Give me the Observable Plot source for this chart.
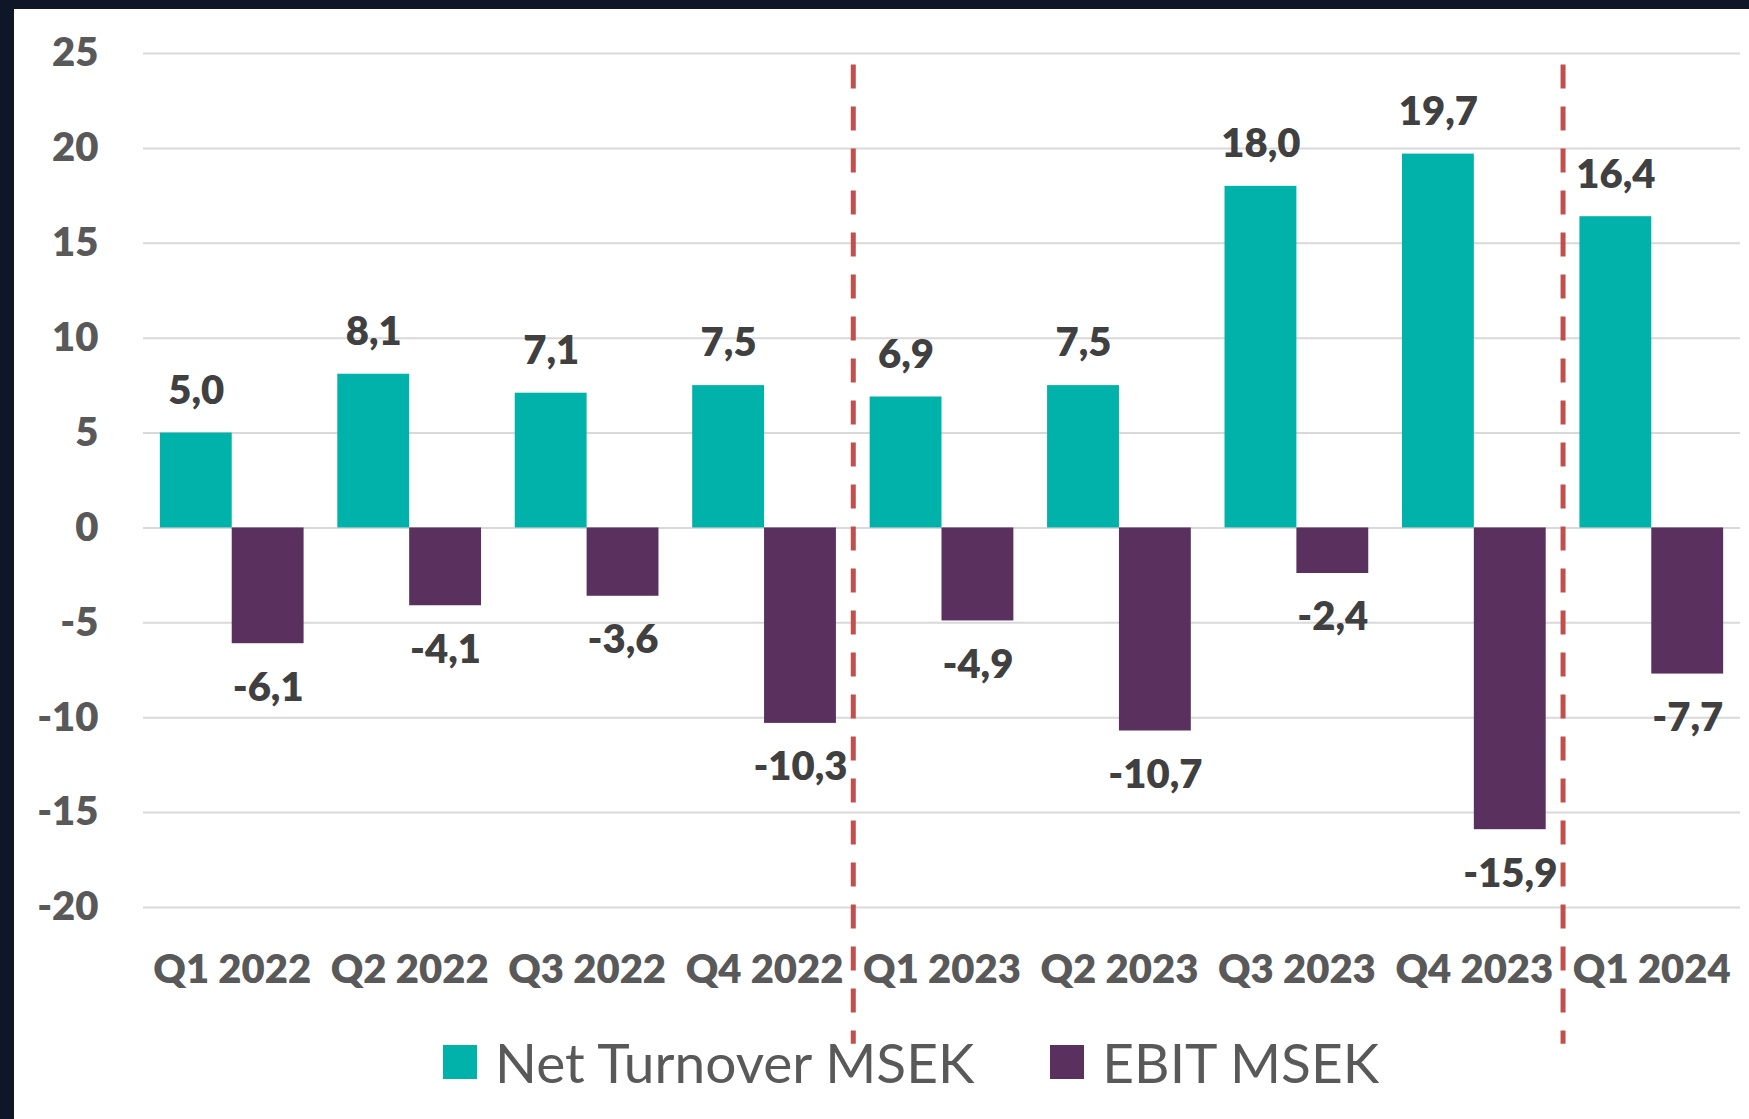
<!DOCTYPE html>
<html>
<head>
<meta charset="utf-8">
<script src="https://cdn.jsdelivr.net/npm/d3@7"></script>
<script src="https://cdn.jsdelivr.net/npm/@observablehq/plot@0.6"></script>
<style>
  html, body { margin: 0; padding: 0; }
  body { width: 1749px; height: 1119px; background: #0e1628; position: relative; overflow: hidden; font-family: Lato, "Open Sans", sans-serif; }
  #card { position: absolute; left: 14px; top: 9px; width: 1735px; height: 1110px; background: #ffffff; }
  #chart { position: absolute; left: 0; top: 0; }
  #legend { position: absolute; left: 429px; top: 1020px; display: flex; align-items: center; color: #595959; font-size: 55px; font-family: Lato, sans-serif; }
  .item { display: flex; align-items: center; }
  .sw { width: 34px; height: 34px; margin-right: 18px; }
  .item + .item { margin-left: 76px; }
</style>
</head>
<body>
<div id="card">
  <div id="chart"></div>
  <div id="legend"></div>
</div>
<script>
const quarters = ["Q1 2022", "Q2 2022", "Q3 2022", "Q4 2022", "Q1 2023", "Q2 2023", "Q3 2023", "Q4 2023", "Q1 2024"];
const netTurnover = [5.0, 8.1, 7.1, 7.5, 6.9, 7.5, 18.0, 19.7, 16.4];
const ebit = [-6.1, -4.1, -3.6, -10.3, -4.9, -10.7, -2.4, -15.9, -7.7];
const seriesNames = ["Net Turnover MSEK", "EBIT MSEK"];
const seriesColors = ["#00B2A9", "#59305E"];
const yTicks = [-20, -15, -10, -5, 0, 5, 10, 15, 20, 25];
const dividers = ["Q1 2023", "Q1 2024"];

const netData = quarters.map((q, i) => ({q, i, v: netTurnover[i]}));
const ebitData = quarters.map((q, i) => ({q, i, v: ebit[i]}));
const fmt = v => v.toFixed(1).replace(".", ",");

const gap = 0.095; // outer padding within each quarter band

const chart = Plot.plot({
  width: 1735,
  height: 1040,
  marginLeft: 129,
  marginRight: 9,
  marginTop: 44,
  marginBottom: 142,
  style: {fontFamily: "Lato, sans-serif", fontSize: "40px", fontWeight: "800", color: "#595959", background: "transparent", overflow: "visible"},
  x: {domain: [0, quarters.length], ticks: quarters.map((_, i) => i + 0.5), tickFormat: v => quarters[Math.floor(v)], tickSize: 0, tickPadding: 47, label: null},
  y: {domain: [-20, 25], ticks: yTicks, tickFormat: d => String(d), tickSize: 0, tickPadding: 45, label: null},
  marks: [
    Plot.ruleY(yTicks, {stroke: "#d9d9d9", strokeWidth: 2}),
    Plot.rectY(netData, {x1: d => d.i + gap, x2: d => d.i + 0.5, y: "v", fill: seriesColors[0]}),
    Plot.rectY(ebitData, {x1: d => d.i + 0.5, x2: d => d.i + 1 - gap, y: "v", fill: seriesColors[1]}),
    Plot.text(netData, {x: d => d.i + (gap + 0.5) / 2, y: "v", text: d => fmt(d.v), dy: -42, lineAnchor: "middle", fill: "#404040", fontSize: 40, fontWeight: "800"}),
    Plot.text(ebitData, {x: d => d.i + (1.5 - gap) / 2, y: "v", text: d => fmt(d.v), dy: 44, lineAnchor: "middle", fill: "#404040", fontSize: 40, fontWeight: "800"}),
    Plot.ruleX(dividers, {x: d => quarters.indexOf(d), y1: 24.4, y2: -27.2, stroke: "#C0504D", strokeWidth: 5, strokeDasharray: "24,18"})
  ]
});
document.getElementById("chart").appendChild(chart);

const legend = document.getElementById("legend");
seriesNames.forEach((name, k) => {
  const item = document.createElement("div");
  item.className = "item";
  const sw = document.createElement("div");
  sw.className = "sw";
  sw.style.background = seriesColors[k];
  const label = document.createElement("span");
  label.textContent = name;
  item.appendChild(sw);
  item.appendChild(label);
  legend.appendChild(item);
});
</script>
</body>
</html>
